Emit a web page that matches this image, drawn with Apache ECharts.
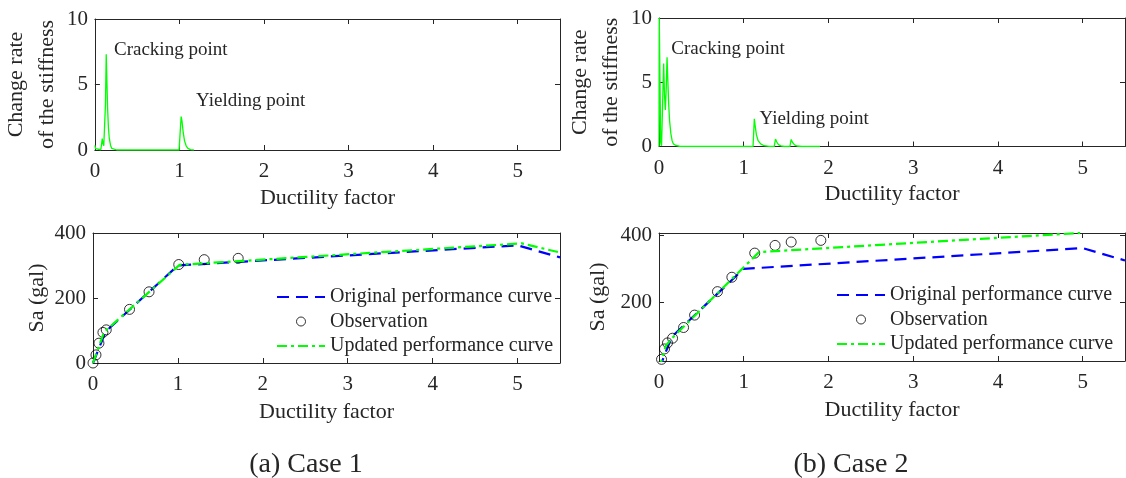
<!DOCTYPE html>
<html><head><meta charset="utf-8">
<script src="https://cdn.jsdelivr.net/npm/echarts@6/dist/echarts.min.js"></script>
<style>html,body{margin:0;padding:0;background:#fff}#c{width:1126px;height:478px}</style>
</head><body><div id="c"></div>
<script>
// ---------- data ----------
const xTicks = [0, 1, 2, 3, 4, 5];
const stiffTicks = [0, 5, 10];
const saTicks1 = [0, 200, 400];
const saTicks2 = [200, 400];

const seriesNames = ['Original performance curve', 'Observation', 'Updated performance curve'];
const captions = ['(a) Case 1', '(b) Case 2'];

// change rate of stiffness vs ductility factor
const stiffness1 = [[0,0.35],[0.008,0.1],[0.02,0.02],[0.07,0.02],[0.08,0.5],[0.087,0.88],[0.095,0.5],[0.105,0.32],[0.115,0.35],[0.125,3.5],[0.134,7.3],[0.142,5.2],[0.15,3.2],[0.16,1.7],[0.17,0.9],[0.185,0.35],[0.2,0.12],[0.22,0.03],[0.26,0],[0.995,0],[1.005,1.0],[1.02,2.55],[1.03,2.2],[1.045,1.3],[1.06,0.7],[1.08,0.3],[1.1,0.12],[1.13,0.03],[1.17,0]];
const stiffness2 = [[0,0],[0.003,10],[0.012,10],[0.02,0.3],[0.03,0.05],[0.045,0.1],[0.055,6.45],[0.065,4],[0.075,2.85],[0.085,4.5],[0.095,6.95],[0.105,5],[0.115,3.2],[0.125,2],[0.14,1],[0.155,0.45],[0.17,0.2],[0.2,0.08],[0.24,0.02],[0.3,0],[1.11,0],[1.125,2.15],[1.135,1.6],[1.15,0.9],[1.17,0.45],[1.2,0.2],[1.24,0.06],[1.3,0.01],[1.36,0],[1.375,0.58],[1.39,0.35],[1.41,0.15],[1.44,0.05],[1.48,0],[1.545,0],[1.56,0.55],[1.575,0.33],[1.6,0.13],[1.63,0.04],[1.68,0],[1.9,0]];

// performance curves (Sa vs ductility factor)
const original1 = [[0,0],[0.15,97],[1.0,300],[5.0,362],[5.5,325]];
const updated1  = [[0,0],[0.13,95],[1.02,302],[5.05,368],[5.5,340]];
const observed1 = [[0,0],[0.035,25],[0.07,61],[0.117,94],[0.156,102],[0.43,165],[0.66,219],[1.01,303],[1.31,318],[1.71,322]];

const original2 = [[0,0],[0.15,97],[1.0,300],[5.0,362],[5.5,325]];
const updated2  = [[0,0],[0.08,70],[0.15,92],[1.18,350],[4.97,407]];
const observed2 = [[0.03,30],[0.065,61],[0.1,79],[0.16,93],[0.29,125],[0.42,162],[0.69,232],[0.86,275],[1.13,347],[1.37,370],[1.56,380],[1.91,385]];

// annotations (text, ductility factor, change rate)
const annot1 = [['Cracking point', 0.22, 7.6], ['Yielding point', 1.19, 3.74]];
const annot2 = [['Cracking point', 0.14, 7.58], ['Yielding point', 1.18, 2.1]];

// ---------- chart ----------
const F = '"Liberation Serif","Times New Roman",serif';
const AX = '#262626';
const chart = echarts.init(document.getElementById('c'), null, {renderer: 'canvas'});

const grids = [
  {left: 93, top: 19, width: 467, height: 131},
  {left: 659, top: 18, width: 466, height: 128.5},
  {left: 93, top: 233, width: 467, height: 130},
  {left: 659, top: 233, width: 466, height: 128}
];

function xAx(gi, pos, main, gap) {
  return {
    type: 'value', gridIndex: gi, position: pos, min: 0, max: 5.5,
    axisLine: {show: true, onZero: false, lineStyle: {color: AX, width: 1}},
    axisTick: {show: true, inside: true, length: 5, customValues: xTicks, lineStyle: {color: AX}},
    axisLabel: {show: main, customValues: xTicks, margin: 11, color: AX, fontFamily: F, fontSize: 21},
    splitLine: {show: false},
    name: main ? 'Ductility factor' : '', nameLocation: 'middle', nameGap: gap,
    nameTextStyle: {color: AX, fontFamily: F, fontSize: 22}
  };
}
function yAx(gi, pos, main, min, max, ticks, name, gap, lh) {
  return {
    type: 'value', gridIndex: gi, position: pos, min: min, max: max,
    axisLine: {show: true, onZero: false, lineStyle: {color: AX, width: 1}},
    axisTick: {show: true, inside: true, length: 5, customValues: ticks, lineStyle: {color: AX}},
    axisLabel: {show: main, customValues: ticks, margin: 7, color: AX, fontFamily: F, fontSize: 21},
    splitLine: {show: false},
    name: main ? name : '', nameLocation: 'middle', nameGap: gap, nameRotate: 90,
    nameTextStyle: {color: AX, fontFamily: F, fontSize: 22, lineHeight: lh, align: 'center'}
  };
}

const xAxes = [], yAxes = [];
for (let g = 0; g < 4; g++) {
  xAxes.push(xAx(g, 'bottom', true, g < 2 ? 37 : 38));
  xAxes.push(xAx(g, 'top', false, 0));
}
yAxes.push(yAx(0, 'left', true, 0, 10, stiffTicks, 'Change rate\nof the stiffness', 27, 31));
yAxes.push(yAx(0, 'right', false, 0, 10, stiffTicks, '', 0, 22));
yAxes.push(yAx(1, 'left', true, 0, 10, stiffTicks, 'Change rate\nof the stiffness', 30, 31));
yAxes.push(yAx(1, 'right', false, 0, 10, stiffTicks, '', 0, 22));
yAxes.push(yAx(2, 'left', true, 0, 400, saTicks1, 'Sa (gal)', 45, 22));
yAxes.push(yAx(2, 'right', false, 0, 400, saTicks1, '', 0, 22));
yAxes.push(yAx(3, 'left', true, 25, 407, saTicks2, 'Sa (gal)', 50, 22));
yAxes.push(yAx(3, 'right', false, 25, 407, saTicks2, '', 0, 22));

const BLUE = '#0000ff', GREEN = '#00ff00';
function stiffSeries(ax, data) {
  return {type: 'line', xAxisIndex: ax * 2, yAxisIndex: ax * 2, data: data, symbol: 'none',
    lineStyle: {color: GREEN, width: 1.3}, itemStyle: {color: GREEN}, silent: true, animation: false, clip: true};
}
function annotSeries(ax, list) {
  return {type: 'scatter', xAxisIndex: ax * 2, yAxisIndex: ax * 2, symbolSize: 1,
    itemStyle: {opacity: 0}, silent: true, animation: false,
    data: list.map(a => ({name: a[0], value: [a[1], a[2]]})),
    label: {show: true, position: 'right', distance: 0, formatter: p => p.name,
      color: AX, fontFamily: F, fontSize: 19, opacity: 1}};
}
function perfSeries(ax, orig, obs, upd) {
  return [
    {name: seriesNames[0], type: 'line', xAxisIndex: ax * 2, yAxisIndex: ax * 2, data: orig, symbol: 'none',
      lineStyle: {color: BLUE, width: 2.2, type: [12, 7]}, itemStyle: {color: BLUE}, animation: false, clip: true},
    {name: seriesNames[1], type: 'scatter', xAxisIndex: ax * 2, yAxisIndex: ax * 2, data: obs,
      symbol: 'circle', symbolSize: 10, itemStyle: {color: 'rgba(0,0,0,0)', borderColor: '#000', borderWidth: 1},
      animation: false, clip: false, z: 3},
    {name: seriesNames[2], type: 'line', xAxisIndex: ax * 2, yAxisIndex: ax * 2, data: upd, symbol: 'none',
      lineStyle: {color: GREEN, width: 2.2, type: [10, 4, 3, 4]}, itemStyle: {color: GREEN}, animation: false, clip: true, z: 4}
  ];
}

const hiddenSymbol = {color: 'rgba(0,0,0,0)', borderColor: 'rgba(0,0,0,0)', borderWidth: 0, opacity: 0};
function legendAt(left, top) {
  return {
    left: left, top: top, orient: 'vertical', padding: 0, itemGap: 4.5, itemWidth: 48, itemHeight: 9,
    selectedMode: false,
    textStyle: {color: AX, fontFamily: F, fontSize: 20, lineHeight: 20},
    data: [
      {name: seriesNames[0], itemStyle: hiddenSymbol},
      {name: seriesNames[1], icon: 'circle', itemStyle: {color: 'rgba(0,0,0,0)', borderColor: '#000', borderWidth: 1}},
      {name: seriesNames[2], itemStyle: hiddenSymbol}
    ]
  };
}

const option = {
  backgroundColor: '#fff',
  animation: false,
  grid: grids,
  xAxis: xAxes,
  yAxis: yAxes,
  legend: [legendAt(276, 287), legendAt(836, 285)],
  series: [
    stiffSeries(0, stiffness1), annotSeries(0, annot1),
    stiffSeries(1, stiffness2), annotSeries(1, annot2),
    ...perfSeries(2, original1, observed1, updated1),
    ...perfSeries(3, original2, observed2, updated2)
  ],
  graphic: [
    {type: 'text', x: 306, y: 465, style: {text: captions[0], align: 'center', verticalAlign: 'middle', font: '28px ' + F, fill: AX}},
    {type: 'text', x: 851, y: 465, style: {text: captions[1], align: 'center', verticalAlign: 'middle', font: '28px ' + F, fill: AX}}
  ]
};
chart.setOption(option);
</script>
</body></html>
